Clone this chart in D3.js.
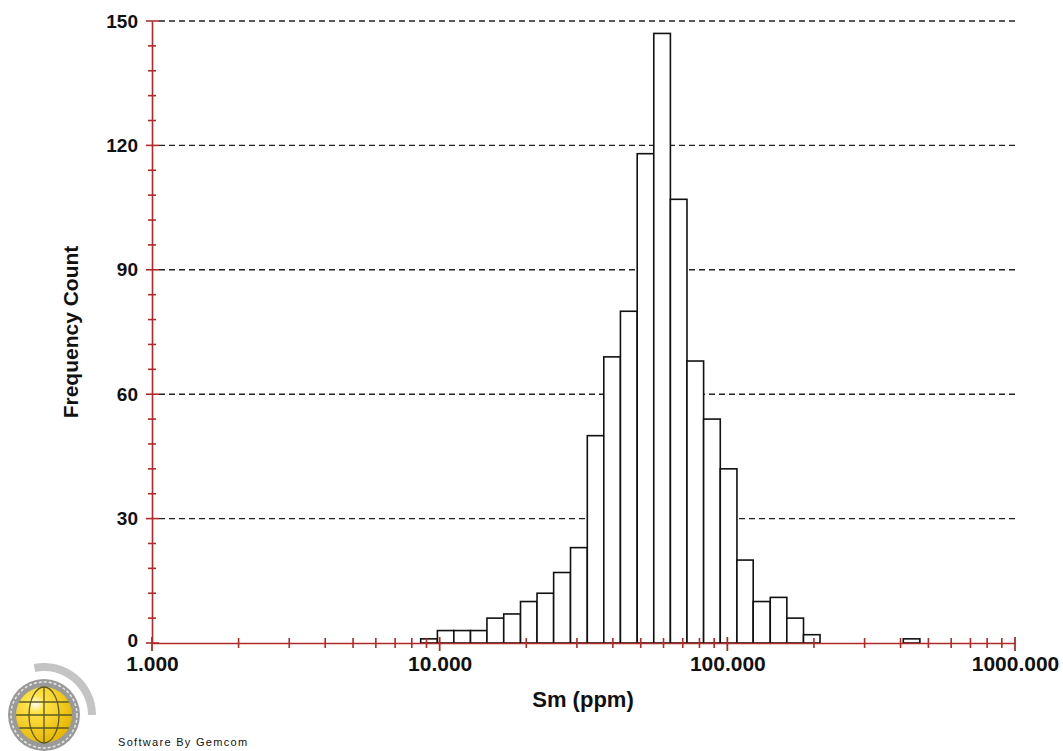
<!DOCTYPE html>
<html>
<head>
<meta charset="utf-8">
<script src="https://cdn.jsdelivr.net/npm/d3@7"></script>
<style>
  body { margin: 0; background: #fff; }
  text { font-family: Arial, "Liberation Sans", sans-serif; }
</style>
</head>
<body>
<div id="chart-area"></div>
<script>
// bin edges (ppm, log-spaced) and counts
var binEdges = [8.59, 9.82, 11.2, 12.8, 14.6, 16.7, 19.1, 21.8, 24.9, 28.5,
                32.6, 37.2, 42.5, 48.6, 55.5, 63.4, 72.4, 82.7, 94.5, 108,
                123, 141, 161, 184, 210, 240, 274, 313, 358, 409, 467];
var counts = [1, 3, 3, 3, 6, 7, 10, 12, 17, 23,
              50, 69, 80, 118, 147, 107, 68, 54, 42, 20,
              10, 11, 6, 2, 0, 0, 0, 0, 0, 1];
var yTicks = [0, 30, 60, 90, 120, 150];
var xTicks = [1, 10, 100, 1000];
var xTickLabels = ["1.000", "10.000", "100.000", "1000.000"];

var W = 1063, H = 751;
var margin = { left: 152, right: 48, top: 21, bottom: 108 };
var axisRed = "#b02a2a";

var svg = d3.select("#chart-area")
    .append("svg")
        .attr("width", W)
        .attr("height", H);

var x = d3.scaleLog()
    .domain([1, 1000])
    .range([margin.left, W - margin.right]);

var y = d3.scaleLinear()
    .domain([0, 150])
    .range([H - margin.bottom, margin.top]);

var bins = counts.map(function(c, i) {
    return { x0: binEdges[i], x1: binEdges[i + 1], n: c };
}).filter(function(d) { return d.n > 0; });

// dashed gridlines
svg.append("g").selectAll("line")
    .data(yTicks.slice(1))
    .enter().append("line")
        .attr("x1", x(1) + 7)
        .attr("x2", x(1000))
        .attr("y1", function(d) { return y(d); })
        .attr("y2", function(d) { return y(d); })
        .attr("stroke", "#222")
        .attr("stroke-width", 1.4)
        .attr("stroke-dasharray", "6,4");

// bars
svg.append("g").selectAll("rect")
    .data(bins)
    .enter().append("rect")
        .attr("x", function(d) { return x(d.x0); })
        .attr("width", function(d) { return x(d.x1) - x(d.x0); })
        .attr("y", function(d) { return y(d.n); })
        .attr("height", function(d) { return y(0) - y(d.n); })
        .attr("fill", "#fff")
        .attr("stroke", "#111")
        .attr("stroke-width", 1.6);

// Y axis
var yAxis = svg.append("g")
    .attr("transform", "translate(" + x(1) + ",0)")
    .call(d3.axisLeft(y).tickValues(yTicks).tickSize(0).tickPadding(14));
yAxis.select(".domain").attr("stroke", axisRed).attr("stroke-width", 1.6);
yAxis.selectAll("text")
    .attr("font-size", "19px")
    .attr("font-weight", "bold")
    .attr("fill", "#111");
// lift the "0" label a little so it clears the x labels
yAxis.selectAll(".tick").filter(function(d) { return d === 0; })
    .select("text").attr("dy", "0.2em");

var yMinor = d3.range(0, 151, 6);
svg.append("g").selectAll("line")
    .data(yMinor)
    .enter().append("line")
        .attr("x1", function(d) { return d % 30 === 0 ? x(1) - 6 : x(1) - 4; })
        .attr("x2", function(d) { return d % 30 === 0 ? x(1) + 7 : x(1) + 4; })
        .attr("y1", function(d) { return y(d); })
        .attr("y2", function(d) { return y(d); })
        .attr("stroke", axisRed)
        .attr("stroke-width", 1.6);

// X axis
var xAxis = svg.append("g")
    .attr("transform", "translate(0," + y(0) + ")")
    .call(d3.axisBottom(x).tickValues(xTicks).tickSize(0).tickPadding(13)
        .tickFormat(function(d, i) { return xTickLabels[i]; }));
xAxis.select(".domain").attr("stroke", axisRed).attr("stroke-width", 1.6);
xAxis.selectAll("text")
    .attr("font-size", "21px")
    .attr("font-weight", "bold")
    .attr("fill", "#111");

var xMinor = [];
[1, 10, 100].forEach(function(p) {
    d3.range(2, 10).forEach(function(k) { xMinor.push(p * k); });
});
svg.append("g").selectAll("line")
    .data(xMinor)
    .enter().append("line")
        .attr("x1", function(d) { return x(d); })
        .attr("x2", function(d) { return x(d); })
        .attr("y1", y(0) - 5)
        .attr("y2", y(0) + 5)
        .attr("stroke", axisRed)
        .attr("stroke-width", 1.6);
svg.append("g").selectAll("line")
    .data(xTicks)
    .enter().append("line")
        .attr("x1", function(d) { return x(d); })
        .attr("x2", function(d) { return x(d); })
        .attr("y1", y(0) - 6)
        .attr("y2", y(0) + 8)
        .attr("stroke", axisRed)
        .attr("stroke-width", 1.8);

// axis titles
svg.append("text")
    .attr("x", 583)
    .attr("y", 707)
    .attr("text-anchor", "middle")
    .attr("font-size", "22px")
    .attr("font-weight", "bold")
    .attr("fill", "#111")
    .text("Sm (ppm)");

svg.append("text")
    .attr("transform", "translate(78," + 332 + ") rotate(-90)")
    .attr("text-anchor", "middle")
    .attr("font-size", "21px")
    .attr("font-weight", "bold")
    .attr("fill", "#111")
    .text("Frequency Count");

// Gemcom logo
var logo = svg.append("g").attr("transform", "translate(44,715)");
var defs = svg.append("defs");
var grad = defs.append("radialGradient").attr("id", "globe")
    .attr("cx", "35%").attr("cy", "30%").attr("r", "70%");
grad.append("stop").attr("offset", "0%").attr("stop-color", "#ffffff");
grad.append("stop").attr("offset", "22%").attr("stop-color", "#ffe34a");
grad.append("stop").attr("offset", "100%").attr("stop-color", "#e8b800");

var arc = d3.arc().innerRadius(44).outerRadius(52)
    .startAngle(-0.2).endAngle(Math.PI / 2);
logo.append("path").attr("d", arc()).attr("fill", "#c4c4c4");
logo.append("circle").attr("r", 36).attr("fill", "#9a9a9a");
logo.append("circle").attr("r", 33).attr("fill", "none")
    .attr("stroke", "#e6e6e6").attr("stroke-width", 1.5).attr("stroke-dasharray", "3,2");
logo.append("circle").attr("r", 28).attr("fill", "url(#globe)");
logo.append("line").attr("x1", 0).attr("x2", 0).attr("y1", -28).attr("y2", 28)
    .attr("stroke", "#5a5a20").attr("stroke-width", 1.3);
logo.append("ellipse").attr("rx", 15).attr("ry", 28).attr("fill", "none")
    .attr("stroke", "#5a5a20").attr("stroke-width", 1.3);
[-13, 0, 13].forEach(function(dy) {
    var hw = Math.sqrt(28 * 28 - dy * dy);
    logo.append("line").attr("x1", -hw).attr("x2", hw).attr("y1", dy).attr("y2", dy)
        .attr("stroke", "#5a5a20").attr("stroke-width", 1.3);
});

svg.append("text")
    .attr("x", 118)
    .attr("y", 746)
    .attr("font-size", "11px")
    .attr("letter-spacing", "1.3px")
    .attr("fill", "#111")
    .text("Software By Gemcom");
</script>
</body>
</html>
